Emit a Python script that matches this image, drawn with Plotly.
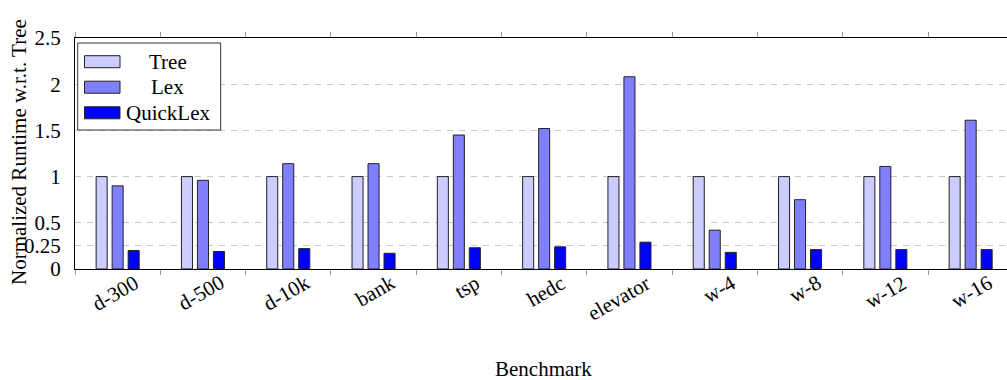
import plotly.graph_objects as go

categories = ["d-300", "d-500", "d-10k", "bank", "tsp", "hedc", "elevator", "w-4", "w-8", "w-12", "w-16"]
tree = [1.0, 1.0, 1.0, 1.0, 1.0, 1.0, 1.0, 1.0, 1.0, 1.0, 1.0]
lex = [0.90, 0.96, 1.14, 1.14, 1.45, 1.52, 2.08, 0.42, 0.75, 1.11, 1.61]
quicklex = [0.20, 0.19, 0.22, 0.17, 0.23, 0.24, 0.29, 0.18, 0.21, 0.21, 0.21]
series_names = ["Tree", "Lex", "QuickLex"]
series_colors = ["#ccccff", "#8080ff", "#0000ff"]
y_tickvals = [0, 0.25, 0.5, 1, 1.5, 2, 2.5]
y_ticktext = ["0", "0.25", "0.5", "1", "1.5", "2", "2.5"]

FONT = "Liberation Serif"
FS = 21
W, H = 1007, 380
ML, MR, MT, MB = 75, 0, 38, 111
PW = W - ML - MR
PH = H - MT - MB
CAT_PX = 85.3

def px2x(px):
    return (px - ML) / PW

def py2y(py):
    return (MT + PH - py) / PH

fig = go.Figure()
for name, vals, col in zip(series_names, [tree, lex, quicklex], series_colors):
    fig.add_trace(go.Bar(
        x=categories, y=vals, name=name,
        marker=dict(color=col, line=dict(color="#222222", width=1)),
        showlegend=False,
    ))

annotations = []
# rotated x tick labels
for c in categories:
    annotations.append(dict(
        x=c, xref="x", y=0, yref="paper", text=c, showarrow=False,
        textangle=-30, xanchor="right", yanchor="top",
        xshift=28, yshift=1, font=dict(family=FONT, size=FS, color="black"),
    ))
# axis titles
annotations.append(dict(
    x=px2x(543), xref="paper", y=py2y(369), yref="paper", text="Benchmark",
    showarrow=False, xanchor="center", yanchor="middle",
    font=dict(family=FONT, size=FS, color="black"),
))
annotations.append(dict(
    x=px2x(19), xref="paper", y=py2y(152), yref="paper",
    text="Normalized Runtime w.r.t. Tree", textangle=-90,
    showarrow=False, xanchor="center", yanchor="middle",
    font=dict(family=FONT, size=FS, color="black"),
))

# custom legend (pgfplots style)
shapes = []
shapes.append(dict(type="rect", xref="paper", yref="paper",
                   x0=px2x(77.7), x1=px2x(220.7), y0=py2y(130), y1=py2y(43),
                   line=dict(color="#333333", width=1), fillcolor="white", layer="above"))
entry_y = [61.7, 87.2, 112.8]
for name, col, yc in zip(series_names, series_colors, entry_y):
    shapes.append(dict(type="rect", xref="paper", yref="paper",
                       x0=px2x(84.5), x1=px2x(120), y0=py2y(yc + 6), y1=py2y(yc - 6),
                       line=dict(color="#222222", width=1), fillcolor=col, layer="above"))
    annotations.append(dict(
        x=px2x(167.5), xref="paper", y=py2y(yc), yref="paper", text=name,
        showarrow=False, xanchor="center", yanchor="middle",
        font=dict(family=FONT, size=FS, color="black"),
    ))

fig.update_layout(
    width=W, height=H,
    margin=dict(l=ML, r=MR, t=MT, b=MB, pad=0),
    paper_bgcolor="white", plot_bgcolor="white",
    barmode="group", bargap=0.4373, bargroupgap=0.31,
    font=dict(family=FONT, size=FS, color="black"),
    annotations=annotations, shapes=shapes,
    showlegend=False,
)
fig.update_xaxes(
    type="category", range=[-0.5, -0.5 + PW / CAT_PX],
    tickson="boundaries", ticks="outside", ticklen=5, tickcolor="#999999", tickwidth=1,
    showline=True, linecolor="black", linewidth=1, mirror="ticks",
    showgrid=False, showticklabels=False, zeroline=False,
)
fig.update_yaxes(
    range=[0, 2.5], tickvals=y_tickvals, ticktext=y_ticktext,
    showgrid=True, gridcolor="#c8c8c8", gridwidth=1, griddash="6px,6px",
    showline=True, linecolor="black", linewidth=1, mirror=False,
    ticks="", ticklabelstandoff=9, zeroline=False,
    tickfont=dict(family=FONT, size=FS, color="black"),
)

fig.write_html(
    "out.html",
    config={"displayModeBar": False},
    post_script="document.body.style.margin='0';document.body.style.overflow='hidden';",
)
